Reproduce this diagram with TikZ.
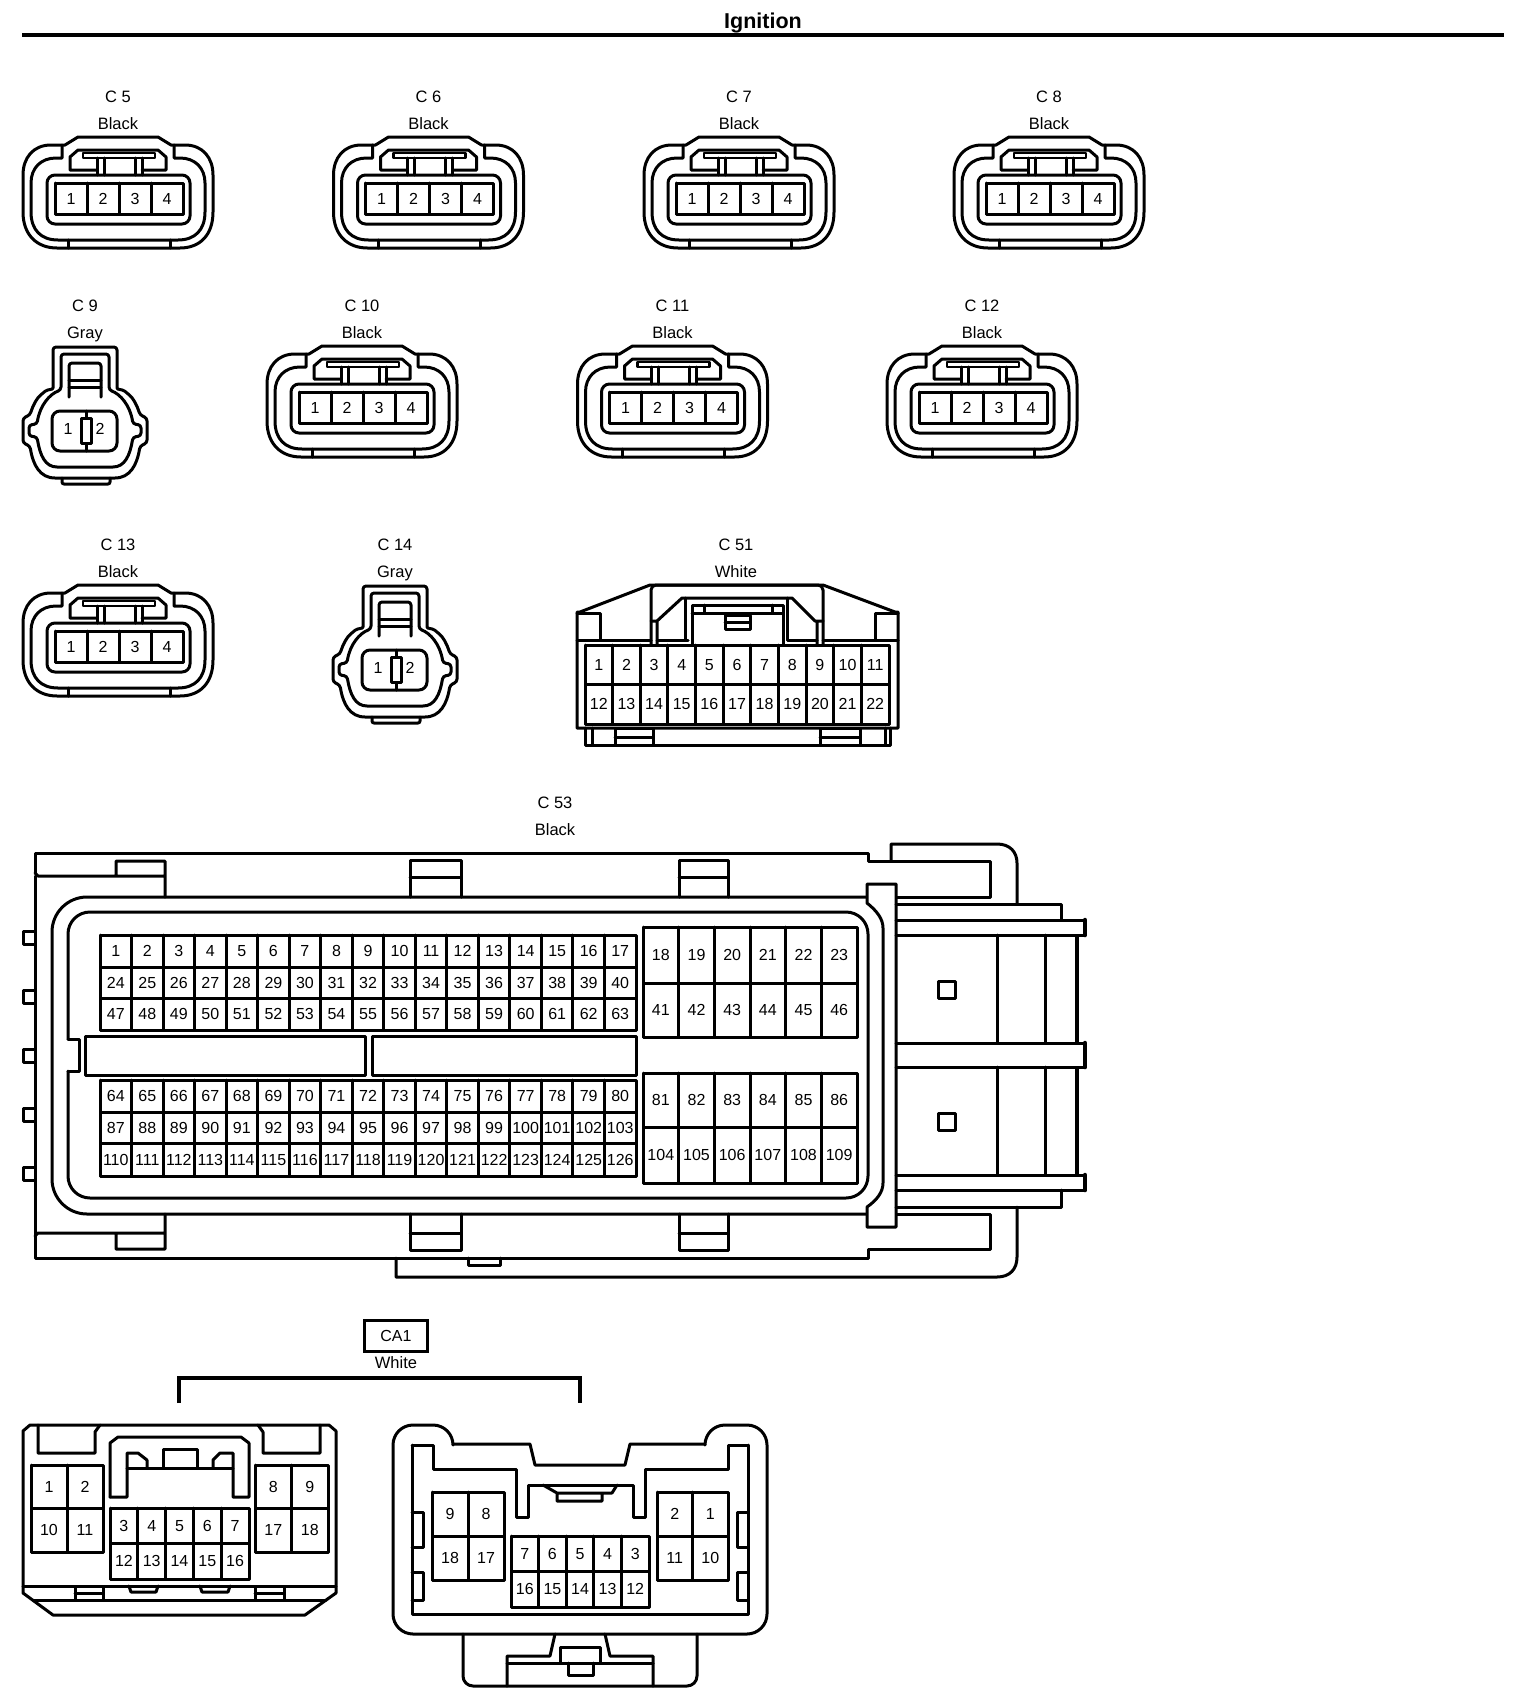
\documentclass[tikz,border=0pt]{standalone}
\usepackage{fontspec}
\setmainfont{Liberation Sans}
\usetikzlibrary{positioning}
\tikzset{
  wire/.style={line width=3pt,line join=round,line cap=round},
  thinwire/.style={line width=2.2pt,line join=round},
  heavywire/.style={line width=4.5pt,line cap=round},
  pintext/.style={inner sep=0pt,font=\fontsize{16}{18}\selectfont,text height=11.5pt,text depth=0pt},
  captext/.style={inner sep=0pt,font=\fontsize{16.5}{18}\selectfont,text height=12pt,text depth=0pt}
}
% one row of numbered cells: name, x0, y0, x1, y1, count, first, step
\newcommand{\newRow}[8]{
  \pgfmathsetmacro{\pinW}{(#4-#2)/#6}
  \pgfmathsetmacro{\pinY}{(#3+#5)/2}
  \draw[wire] (#2,#3) rectangle (#4,#5);
  \foreach \i in {1,...,#6}{
    \pgfmathtruncatemacro{\pinN}{#7+(\i-1)*#8}
    \pgfmathsetmacro{\pinA}{#2+(\i-1)*\pinW}
    \pgfmathsetmacro{\pinX}{\pinA+\pinW/2}
    \draw[wire] (\pinA,#3) -- (\pinA,#5);
    \node[pintext] (#1\pinN) at (\pinX,\pinY) {\pinN};
  }
}
\newcommand{\newCaption}[5]{
  \node[captext] (#1a) at (#2,#3) {#4};
  \node[captext] (#1b) at (#2,#3+27) {#5};
}
% the four pin housing, drawn at the place of C 5 and moved by dx, dy
\newcommand{\newFourPin}[5]{
  \begin{scope}[shift={(#2,#3)}]
    \newCaption{#1}{118}{96}{#4}{#5}
    \draw[wire] (78,137) -- (158,137) -- (171,145) -- (185,145) .. controls (203,145) and (213,158) .. (213,175) -- (213,212) .. controls (213,235) and (200,248) .. (180,248) -- (57,248) .. controls (37,248) and (23,235) .. (23,212) -- (23,175) .. controls (23,158) and (33,145) .. (51,145) -- (65,145) -- cycle;
    \draw[wire] (174,145) -- (174,158) -- (180,158) .. controls (195,158) and (205,168) .. (205,183) -- (205,212) .. controls (205,230) and (195,240) .. (178,240) -- (58,240) .. controls (41,240) and (31,230) .. (31,212) -- (31,183) .. controls (31,168) and (41,158) .. (56,158) -- (62,158) -- (62,145);
    \draw[wire] (68,240) -- (68,248) (170,240) -- (170,248);
    \draw[wire] (97,170) -- (70,170) -- (70,157) -- (78,150) -- (158,150) -- (166,157) -- (166,170) -- (142,170);
    \draw[thinwire] (83,153) rectangle (155,158);
    \draw[wire] (97,158) -- (97,175) (104,158) -- (104,175) (135,158) -- (135,175) (142,158) -- (142,175);
    \draw[wire,rounded corners=8pt] (47,175) rectangle (190,224);
    \newRow{#1p}{55}{183}{183}{214}{4}{1}{1}
  \end{scope}
}
% the two pin housing, drawn at the place of C 9
\newcommand{\newTwoPin}[5]{
  \begin{scope}[shift={(#2,#3)}]
    \newCaption{#1}{85}{305}{#4}{#5}
    \draw[wire,rounded corners=3pt] (53,347) -- (117,347) -- (117,385) .. controls (117,390) and (122,389) .. (127,393) .. controls (133,398) and (137,405) .. (140,415) -- (147,418) -- (147,443) -- (140,446) .. controls (137,465) and (130,478) .. (112,478) -- (58,478) .. controls (40,478) and (33,465) .. (30,446) -- (23,443) -- (23,418) -- (30,415) .. controls (33,405) and (37,398) .. (43,393) .. controls (48,389) and (53,390) .. (53,385) -- cycle;
    \draw[wire,rounded corners=3pt] (61,354) -- (109,354) -- (109,390) .. controls (120,394) and (130,405) .. (133,424) -- (141,425) -- (141,436) -- (133,437) .. controls (130,455) and (125,467) .. (110,467) -- (60,467) .. controls (45,467) and (40,455) .. (37,437) -- (29,436) -- (29,425) -- (37,424) .. controls (40,405) and (50,394) .. (61,390) -- cycle;
    \draw[wire,rounded corners=2pt] (62,478) -- (62,484) -- (110,484) -- (110,478);
    \draw[wire,rounded corners=3pt] (69,397) -- (69,363) -- (101,363) -- (101,397);
    \draw[wire] (69,380) -- (101,380) (69,387) -- (101,387);
    \draw[wire,rounded corners=8pt] (52,411) rectangle (117,451);
    \draw[wire] (86,411) -- (86,451);
    \draw[wire,fill=white] (81,418) rectangle (91,443);
    \node[pintext] (#1p1) at (68,429) {1};
    \node[pintext] (#1p2) at (100,429) {2};
  \end{scope}
}
\begin{document}
\begin{tikzpicture}[x=1pt,y=-1pt]
  \useasboundingbox (0,0) rectangle (1520,1702);
  \node[inner sep=0pt,font=\fontsize{21.5}{24}\selectfont\bfseries] (heading) at (763,23) {Ignition};
  \coordinate (ruleL) at (22,35);
  \coordinate (ruleR) at (1504,35);
  \draw[line width=4.5pt] (ruleL) -- (ruleR);

  \newFourPin{c5}{0}{0}{C 5}{Black}
  \newFourPin{c6}{310.5}{0}{C 6}{Black}
  \newFourPin{c7}{621}{0}{C 7}{Black}
  \newFourPin{c8}{931}{0}{C 8}{Black}
  \newTwoPin{c9}{0}{0}{C 9}{Gray}
  \newFourPin{c10}{244}{209}{C 10}{Black}
  \newFourPin{c11}{554.5}{209}{C 11}{Black}
  \newFourPin{c12}{864}{209}{C 12}{Black}
  \newFourPin{c13}{0}{448}{C 13}{Black}
  \newTwoPin{c14}{310}{239}{C 14}{Gray}

  % C 51
  \newCaption{c51}{736}{544}{C 51}{White}
  \draw[wire] (577,728) -- (577,612) -- (580,612) -- (650,585) -- (823,585) -- (895,612) -- (898,612) -- (898,728) -- cycle;
  \draw[wire] (585,728) -- (585,745) -- (890,745) -- (890,728);
  \draw[wire] (592,728) -- (592,745) (885,728) -- (885,745);
  \draw[wire] (615,728) rectangle (653,745) (615,737) -- (653,737);
  \draw[wire] (820,728) rectangle (860,745) (820,737) -- (860,737);
  \draw[wire] (577,613) -- (600,613) -- (600,640) (898,613) -- (875,613) -- (875,640);
  \draw[wire] (577,640) -- (651,640) (823,640) -- (898,640);
  \draw[wire,rounded corners=5pt] (651,645) -- (651,585) -- (823,585) -- (823,645);
  \draw[wire] (657,645) -- (657,621) -- (651,621) (657,621) -- (682,598) -- (792,598) -- (815,621) -- (823,621) (817,621) -- (817,645);
  \draw[wire] (685,598) -- (685,640) (688,640) -- (657,640) (787,598) -- (787,640) -- (817,640);
  \draw[wire] (692,645) -- (692,605) -- (783,605) -- (783,645) (692,613) -- (783,613) (704,605) -- (704,613) (772,605) -- (772,613);
  \draw[wire] (725,615) rectangle (750,629) (725,622) -- (750,622);
  \newRow{c51p}{585}{645}{889}{684}{11}{1}{1}
  \newRow{c51p}{585}{684}{889}{724}{11}{12}{1}

  % C 53
  \node[captext] (c53a) at (555,802) {C 53};
  \node[captext] (c53b) at (555,829.5) {Black};
  \draw[wire] (35,873) -- (35,853) -- (868,853) -- (868,861) -- (990,861) -- (990,897) -- (896,897);
  \draw[wire] (35,873) -- (38,876) -- (165,876) -- (165,897) (116,876) -- (116,861) -- (165,861) -- (165,876);
  \draw[wire] (35,876) -- (35,1258) -- (868,1258) -- (868,1249) -- (990,1249) -- (990,1214) -- (896,1214);
  \draw[wire] (35,1236) -- (38,1233) -- (165,1233) -- (165,1214) (116,1233) -- (116,1249) -- (165,1249) -- (165,1233);
  \foreach \cx/\cw in {410/51,679/49}{
    \draw[wire] (\cx,897) -- (\cx,860) -- (\cx+\cw,860) -- (\cx+\cw,897) (\cx,877) -- (\cx+\cw,877);
    \draw[wire] (\cx,1214) -- (\cx,1250) -- (\cx+\cw,1250) -- (\cx+\cw,1214) (\cx,1233) -- (\cx+\cw,1233);
  }
  \foreach \ty in {931,990,1049,1108,1167}{
    \draw[wire] (35,\ty) -- (23,\ty) -- (23,\ty+13) -- (35,\ty+13);
  }
  \draw[wire,rounded corners=35pt] (867,897) -- (52,897) -- (52,1214) -- (867,1214);
  \draw[wire,rounded corners=22pt] (68,1039) -- (68,912) -- (868,912) -- (868,1198) -- (68,1198) -- (68,1071);
  \draw[wire] (68,1039) -- (79,1039) -- (79,1071) -- (68,1071);
  \draw[wire] (85,1036) rectangle (365,1075);
  \draw[wire] (372,1036) rectangle (636,1075);
  \newRow{c53p}{100}{935}{636}{967}{17}{1}{1}
  \newRow{c53p}{100}{967}{636}{998}{17}{24}{1}
  \newRow{c53p}{100}{998}{636}{1030}{17}{47}{1}
  \newRow{c53p}{100}{1080}{636}{1112}{17}{64}{1}
  \newRow{c53p}{100}{1112}{636}{1143}{17}{87}{1}
  \newRow{c53p}{100}{1143}{636}{1176}{17}{110}{1}
  \newRow{c53p}{643}{927}{857}{983}{6}{18}{1}
  \newRow{c53p}{643}{983}{857}{1037}{6}{41}{1}
  \newRow{c53p}{643}{1073}{857}{1127}{6}{81}{1}
  \newRow{c53p}{643}{1127}{857}{1183}{6}{104}{1}
  \draw[wire,fill=white] (867,884) -- (896,884) -- (896,1227) -- (867,1227) -- (867,1207) .. controls (877,1200) and (883,1192) .. (883,1183) -- (883,928) .. controls (883,919) and (877,911) .. (867,903) -- cycle;
  \draw[wire] (891,861) -- (891,844) -- (997,844) .. controls (1010,844) and (1017,852) .. (1017,863) -- (1017,904);
  \draw[wire] (896,904) -- (1061,904) -- (1061,920);
  \draw[wire] (896,920) -- (1085,920) -- (1085,935) -- (896,935);
  \draw[wire] (896,1043) -- (1085,1043) -- (1085,1067) -- (896,1067);
  \draw[wire] (896,1175) -- (1085,1175) -- (1085,1190) -- (896,1190);
  \draw[heavywire] (1085,920) -- (1085,935) (1085,1043) -- (1085,1067) (1085,1175) -- (1085,1190);
  \draw[wire] (896,1207) -- (1061,1207) -- (1061,1190);
  \draw[wire] (1017,1207) -- (1017,1257) .. controls (1017,1269) and (1010,1277) .. (997,1277) -- (396,1277) -- (396,1258);
  \draw[wire] (468,1258) -- (468,1265) -- (500,1265) -- (500,1258);
  \foreach \vx in {997,1045}{
    \draw[wire] (\vx,935) -- (\vx,1043) (\vx,1067) -- (\vx,1175);
  }
  \draw[line width=4pt] (1077,935) -- (1077,1043) (1077,1067) -- (1077,1175);
  \draw[wire] (938,981) rectangle (955,998);
  \draw[wire] (938,1113) rectangle (955,1130);

  % CA1
  \node[draw,line width=3pt,inner sep=0pt,minimum width=63pt,minimum height=31pt,font=\fontsize{16}{18}\selectfont] (ca1) at (396,1335.5) {CA1};
  \node[captext] (ca1b) at (396,1362.5) {White};
  \coordinate (brL) at (179,1403);
  \coordinate (brR) at (580,1403);
  \draw[line width=3.3pt] (brL) -- (179,1378) -- (580,1378) -- (brR);

  % CA1, left half
  \draw[wire] (30,1425) -- (329,1425) -- (336,1431) -- (336,1593) -- (305,1615) -- (53,1615) -- (23,1593) -- (23,1431) -- cycle;
  \draw[wire] (23,1586) -- (336,1586) (33,1600) -- (326,1600);
  \draw[wire] (38,1425) -- (38,1453) -- (95,1453) -- (95,1432) -- (100,1425);
  \draw[wire] (320,1425) -- (320,1453) -- (263,1453) -- (263,1432) -- (258,1425);
  \draw[wire] (110,1497) -- (110,1443) -- (118,1437) -- (241,1437) -- (249,1443) -- (249,1497) -- (233,1497) -- (233,1453) -- (220,1453) -- (213,1460) -- (213,1468);
  \draw[wire] (110,1497) -- (127,1497) -- (127,1453) -- (138,1453) -- (147,1460) -- (147,1468);
  \draw[wire] (127,1468) -- (233,1468);
  \draw[wire] (163,1468) -- (163,1449) -- (197,1449) -- (197,1468);
  \draw[wire] (75,1586) rectangle (103,1600) (75,1593) -- (103,1593);
  \draw[wire] (255,1586) rectangle (284,1600) (255,1593) -- (284,1593);
  \draw[wire] (129,1586) -- (131,1592) -- (156,1592) -- (158,1586);
  \draw[wire] (200,1586) -- (202,1592) -- (228,1592) -- (230,1586);
  \newRow{calp}{31}{1465}{103}{1508}{2}{1}{1}
  \newRow{calp}{31}{1508}{103}{1552}{2}{10}{1}
  \newRow{calp}{255}{1465}{328}{1508}{2}{8}{1}
  \newRow{calp}{255}{1508}{328}{1552}{2}{17}{1}
  \newRow{calp}{110}{1508}{249}{1543}{5}{3}{1}
  \newRow{calp}{110}{1543}{249}{1579}{5}{12}{1}

  % CA1, right half
  \draw[wire,rounded corners=20pt] (453,1444) -- (453,1425) -- (393,1425) -- (393,1634) -- (767,1634) -- (767,1425) -- (705,1425) -- (705,1444);
  \draw[wire] (453,1444) -- (530,1444) -- (535,1465) -- (625,1465) -- (630,1444) -- (705,1444);
  \draw[wire] (412,1445) -- (412,1614) -- (748,1614) -- (748,1445);
  \draw[wire] (412,1445) -- (433,1445) -- (433,1469) -- (516,1469) -- (516,1517) -- (528,1517) -- (528,1485) -- (633,1485) -- (633,1517) -- (645,1517) -- (645,1469) -- (728,1469) -- (728,1445) -- (748,1445);
  \draw[wire] (543,1485) -- (557,1493) -- (612,1493) -- (617,1485) (557,1493) -- (557,1501) -- (602,1501) -- (602,1493);
  \foreach \sy/\sh in {1512/35,1572/28}{
    \draw[wire] (412,\sy) -- (423,\sy) -- (423,\sy+\sh) -- (412,\sy+\sh);
    \draw[wire] (748,\sy) -- (737,\sy) -- (737,\sy+\sh) -- (748,\sy+\sh);
  }
  \draw[wire,rounded corners=10pt] (463,1634) -- (463,1686) -- (697,1686) -- (697,1634);
  \draw[wire] (555,1634) -- (550,1656) -- (507,1656) -- (507,1686) (605,1634) -- (610,1656) -- (653,1656) -- (653,1686);
  \draw[wire] (507,1663) -- (653,1663);
  \draw[wire] (560,1663) -- (560,1647) -- (600,1647) -- (600,1663) (568,1663) -- (568,1675) -- (593,1675) -- (593,1663);
  \newRow{carp}{432}{1492}{504}{1536}{2}{9}{-1}
  \newRow{carp}{432}{1536}{504}{1580}{2}{18}{-1}
  \newRow{carp}{657}{1492}{728}{1536}{2}{2}{-1}
  \newRow{carp}{657}{1536}{728}{1580}{2}{11}{-1}
  \newRow{carp}{511}{1536}{649}{1571}{5}{7}{-1}
  \newRow{carp}{511}{1571}{649}{1607}{5}{16}{-1}
\end{tikzpicture}
\end{document}
